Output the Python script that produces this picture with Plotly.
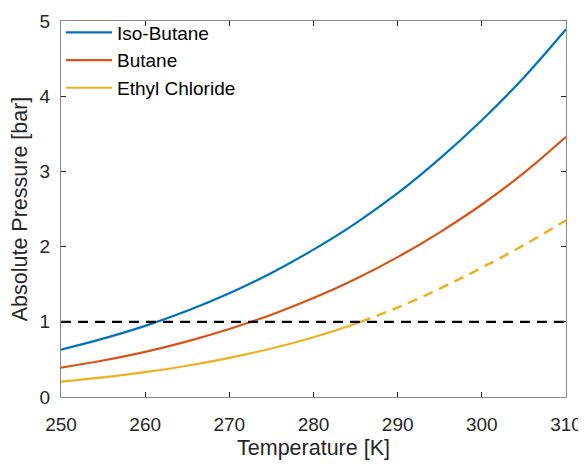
import plotly.graph_objects as go

# Temperature grid [K]
temperature = [250, 255, 260, 265, 270, 275, 280, 285, 290, 295, 300, 305, 310]

# Vapour pressures [bar]
iso_butane = [0.63, 0.776, 0.946, 1.147, 1.38, 1.65, 1.96, 2.31, 2.71, 3.17, 3.68, 4.25, 4.89]
butane = [0.39, 0.485, 0.60, 0.74, 0.905, 1.095, 1.315, 1.57, 1.86, 2.19, 2.56, 2.98, 3.46]
ethyl_chloride = [0.205, 0.26, 0.33, 0.415, 0.52, 0.645, 0.795, 0.975, 1.19, 1.44, 1.72, 2.02, 2.35]

# Ethyl chloride boiling point at 1 bar (where line turns dashed)
ec_boil_T = 285.6
ec_boil_P = 1.0

atm_level = 1.0

x_ticks = [250, 260, 270, 280, 290, 300, 310]
y_ticks = [0, 1, 2, 3, 4, 5]

colors = ["#0072BD", "#D95319", "#EDB120"]

# split ethyl chloride into solid (below 1 bar) and dashed parts
ec_solid_T = [t for t in temperature if t < ec_boil_T] + [ec_boil_T]
ec_solid_P = [p for t, p in zip(temperature, ethyl_chloride) if t < ec_boil_T] + [ec_boil_P]
ec_dash_T = [ec_boil_T] + [t for t in temperature if t > ec_boil_T]
ec_dash_P = [ec_boil_P] + [p for t, p in zip(temperature, ethyl_chloride) if t > ec_boil_T]

FONT = "Liberation Sans, Arial, sans-serif"

fig = go.Figure()
fig.add_trace(go.Scatter(x=temperature, y=iso_butane, mode="lines", name="Iso-Butane",
                         line=dict(color=colors[0], width=2.2, shape="spline")))
fig.add_trace(go.Scatter(x=temperature, y=butane, mode="lines", name="Butane",
                         line=dict(color=colors[1], width=2.2, shape="spline")))
fig.add_trace(go.Scatter(x=ec_solid_T, y=ec_solid_P, mode="lines", name="Ethyl Chloride",
                         line=dict(color=colors[2], width=2.2, shape="spline")))
fig.add_trace(go.Scatter(x=ec_dash_T, y=ec_dash_P, mode="lines", showlegend=False,
                         line=dict(color=colors[2], width=2.5, dash="10px,7px", shape="spline")))
fig.add_trace(go.Scatter(x=[x_ticks[0], x_ticks[-1]], y=[atm_level, atm_level], mode="lines",
                         showlegend=False,
                         line=dict(color="black", width=2.2, dash="10px,7px")))

axis_common = dict(
    showline=True, linecolor="#8a8a8a", linewidth=1.3, mirror="ticks",
    ticks="inside", ticklen=5, tickcolor="#262626", tickwidth=1,
    showgrid=False, zeroline=False, automargin=False,
    tickfont=dict(family=FONT, size=19, color="#262626"),
)

# page body adds an 8 px margin, so the figure is sized 8 px smaller
fig.update_layout(
    width=578, height=458,
    margin=dict(l=53, r=20, t=5, b=69),
    plot_bgcolor="white", paper_bgcolor="white",
    font=dict(family=FONT, color="#262626"),
    xaxis=dict(range=[250, 310], tickvals=x_ticks, ticktext=[str(v) for v in x_ticks],
               title=dict(text="Temperature [K]", font=dict(size=21.5, color="#262626"), standoff=5),
               ticklabelstandoff=10, **axis_common),
    yaxis=dict(range=[0, 5], tickvals=y_ticks, ticktext=[str(v) for v in y_ticks],
               title=dict(text="Absolute Pressure [bar]", font=dict(size=21.5, color="#262626"), standoff=8),
               ticklabelstandoff=6, **axis_common),
    legend=dict(x=0.0, y=1.02, xanchor="left", yanchor="top", bgcolor="rgba(255,255,255,0)",
                font=dict(family=FONT, size=19, color="black"), itemwidth=46, tracegroupgap=0),
    showlegend=True,
)

fig.write_html("out.html")
